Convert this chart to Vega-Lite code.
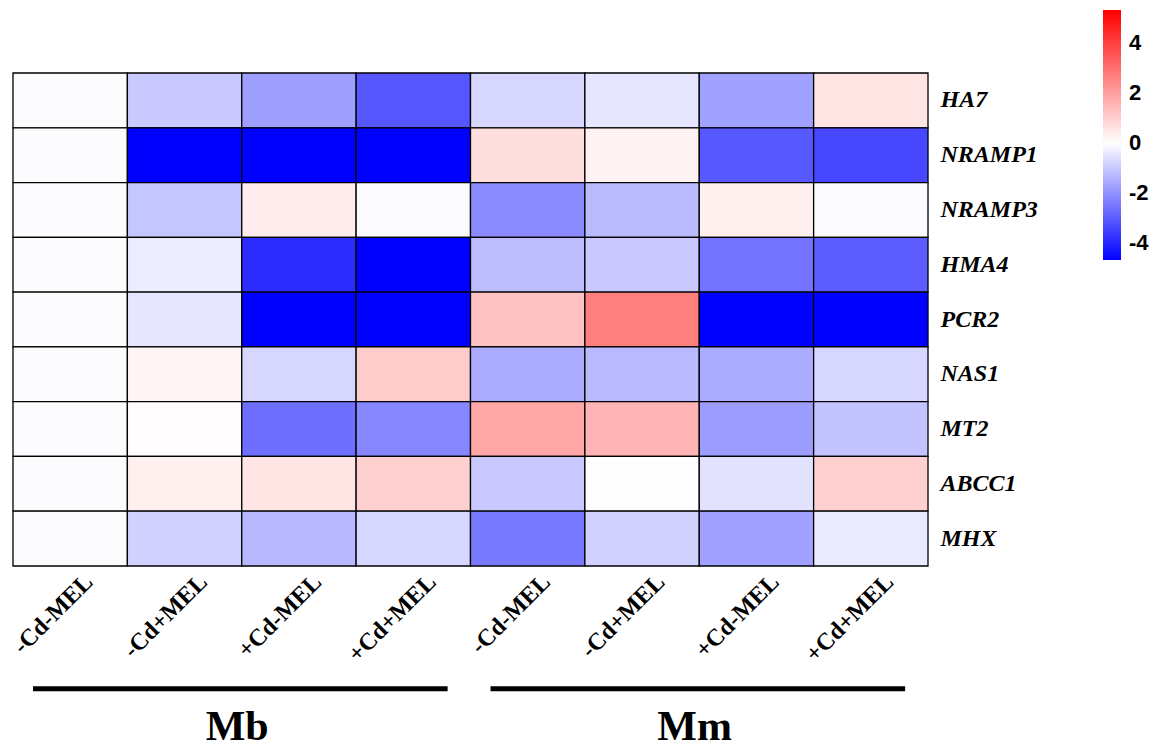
{
  "$schema": "https://vega.github.io/schema/vega-lite/v6.json",
  "width": 915,
  "height": 493,
  "autosize": {"type": "none"},
  "padding": {"left": 13, "top": 73, "right": 227, "bottom": 185},
  "background": "white",
  "config": {"view": {"stroke": null}},
  "datasets": {
    "cells": [
      {"gene":"HA7","col":"Mb|-Cd-MEL","value":-0.06},{"gene":"HA7","col":"Mb|-Cd+MEL","value":-1.0},{"gene":"HA7","col":"Mb|+Cd-MEL","value":-1.76},{"gene":"HA7","col":"Mb|+Cd+MEL","value":-3.1},{"gene":"HA7","col":"Mm|-Cd-MEL","value":-0.75},{"gene":"HA7","col":"Mm|-Cd+MEL","value":-0.45},{"gene":"HA7","col":"Mm|+Cd-MEL","value":-1.73},{"gene":"HA7","col":"Mm|+Cd+MEL","value":0.56},
      {"gene":"NRAMP1","col":"Mb|-Cd-MEL","value":-0.06},{"gene":"NRAMP1","col":"Mb|-Cd+MEL","value":-4.68},{"gene":"NRAMP1","col":"Mb|+Cd-MEL","value":-4.68},{"gene":"NRAMP1","col":"Mb|+Cd+MEL","value":-4.68},{"gene":"NRAMP1","col":"Mm|-Cd-MEL","value":0.68},{"gene":"NRAMP1","col":"Mm|-Cd+MEL","value":0.27},{"gene":"NRAMP1","col":"Mm|+Cd-MEL","value":-3.07},{"gene":"NRAMP1","col":"Mm|+Cd+MEL","value":-3.38},
      {"gene":"NRAMP3","col":"Mb|-Cd-MEL","value":-0.06},{"gene":"NRAMP3","col":"Mb|-Cd+MEL","value":-1.07},{"gene":"NRAMP3","col":"Mb|+Cd-MEL","value":0.39},{"gene":"NRAMP3","col":"Mb|+Cd+MEL","value":-0.07},{"gene":"NRAMP3","col":"Mm|-Cd-MEL","value":-2.13},{"gene":"NRAMP3","col":"Mm|-Cd+MEL","value":-1.27},{"gene":"NRAMP3","col":"Mm|+Cd-MEL","value":0.31},{"gene":"NRAMP3","col":"Mm|+Cd+MEL","value":-0.07},
      {"gene":"HMA4","col":"Mb|-Cd-MEL","value":-0.06},{"gene":"HMA4","col":"Mb|-Cd+MEL","value":-0.35},{"gene":"HMA4","col":"Mb|+Cd-MEL","value":-3.88},{"gene":"HMA4","col":"Mb|+Cd+MEL","value":-4.68},{"gene":"HMA4","col":"Mm|-Cd-MEL","value":-1.2},{"gene":"HMA4","col":"Mm|-Cd+MEL","value":-1.0},{"gene":"HMA4","col":"Mm|+Cd-MEL","value":-2.57},{"gene":"HMA4","col":"Mm|+Cd+MEL","value":-2.97},
      {"gene":"PCR2","col":"Mb|-Cd-MEL","value":-0.06},{"gene":"PCR2","col":"Mb|-Cd+MEL","value":-0.45},{"gene":"PCR2","col":"Mb|+Cd-MEL","value":-4.68},{"gene":"PCR2","col":"Mb|+Cd+MEL","value":-4.68},{"gene":"PCR2","col":"Mm|-Cd-MEL","value":1.26},{"gene":"PCR2","col":"Mm|-Cd+MEL","value":2.67},{"gene":"PCR2","col":"Mm|+Cd-MEL","value":-4.68},{"gene":"PCR2","col":"Mm|+Cd+MEL","value":-4.68},
      {"gene":"NAS1","col":"Mb|-Cd-MEL","value":-0.06},{"gene":"NAS1","col":"Mb|-Cd+MEL","value":0.21},{"gene":"NAS1","col":"Mb|+Cd-MEL","value":-0.75},{"gene":"NAS1","col":"Mb|+Cd+MEL","value":1.06},{"gene":"NAS1","col":"Mm|-Cd-MEL","value":-1.53},{"gene":"NAS1","col":"Mm|-Cd+MEL","value":-1.29},{"gene":"NAS1","col":"Mm|+Cd-MEL","value":-1.53},{"gene":"NAS1","col":"Mm|+Cd+MEL","value":-0.75},
      {"gene":"MT2","col":"Mb|-Cd-MEL","value":-0.06},{"gene":"MT2","col":"Mb|-Cd+MEL","value":0.05},{"gene":"MT2","col":"Mb|+Cd-MEL","value":-2.64},{"gene":"MT2","col":"Mb|+Cd+MEL","value":-2.22},{"gene":"MT2","col":"Mm|-Cd-MEL","value":1.84},{"gene":"MT2","col":"Mm|-Cd+MEL","value":1.55},{"gene":"MT2","col":"Mm|+Cd-MEL","value":-1.8},{"gene":"MT2","col":"Mm|+Cd+MEL","value":-1.11},
      {"gene":"ABCC1","col":"Mb|-Cd-MEL","value":-0.06},{"gene":"ABCC1","col":"Mb|-Cd+MEL","value":0.31},{"gene":"ABCC1","col":"Mb|+Cd-MEL","value":0.56},{"gene":"ABCC1","col":"Mb|+Cd+MEL","value":0.99},{"gene":"ABCC1","col":"Mm|-Cd-MEL","value":-1.0},{"gene":"ABCC1","col":"Mm|-Cd+MEL","value":0.03},{"gene":"ABCC1","col":"Mm|+Cd-MEL","value":-0.53},{"gene":"ABCC1","col":"Mm|+Cd+MEL","value":0.99},
      {"gene":"MHX","col":"Mb|-Cd-MEL","value":-0.06},{"gene":"MHX","col":"Mb|-Cd+MEL","value":-0.84},{"gene":"MHX","col":"Mb|+Cd-MEL","value":-1.31},{"gene":"MHX","col":"Mb|+Cd+MEL","value":-0.75},{"gene":"MHX","col":"Mm|-Cd-MEL","value":-2.46},{"gene":"MHX","col":"Mm|-Cd+MEL","value":-0.84},{"gene":"MHX","col":"Mm|+Cd-MEL","value":-1.73},{"gene":"MHX","col":"Mm|+Cd+MEL","value":-0.38}
    ],
    "groups": [
      {"group":"Mb","first":"Mb|-Cd-MEL","last":"Mb|+Cd+MEL","mid":"Mb|-Cd+MEL"},
      {"group":"Mm","first":"Mm|-Cd-MEL","last":"Mm|+Cd+MEL","mid":"Mm|-Cd+MEL"}
    ]
  },
  "resolve": {"scale": {"y": "independent", "color": "independent"}},
  "layer": [
    {
      "data": {"name": "cells"},
      "mark": {"type": "rect", "stroke": "black", "strokeWidth": 1.3},
      "encoding": {
        "x": {
          "field": "col", "type": "nominal",
          "scale": {"domain": ["Mb|-Cd-MEL","Mb|-Cd+MEL","Mb|+Cd-MEL","Mb|+Cd+MEL","Mm|-Cd-MEL","Mm|-Cd+MEL","Mm|+Cd-MEL","Mm|+Cd+MEL"], "paddingInner": 0, "paddingOuter": 0},
          "axis": {
            "title": null, "orient": "bottom", "domain": false, "ticks": false, "tickSize": 0,
            "labelAngle": -45, "labelAlign": "right", "labelBaseline": "middle",
            "labelOffset": 19, "labelPadding": 12,
            "labelFont": "Liberation Serif", "labelFontWeight": "bold", "labelFontSize": 24, "labelColor": "black",
            "labelExpr": "split(datum.value, '|')[1]", "labelLimit": 300
          }
        },
        "y": {
          "field": "gene", "type": "nominal",
          "scale": {"domain": ["HA7","NRAMP1","NRAMP3","HMA4","PCR2","NAS1","MT2","ABCC1","MHX"], "paddingInner": 0, "paddingOuter": 0},
          "axis": {
            "title": null, "orient": "right", "domain": false, "ticks": false, "tickSize": 0,
            "labelPadding": 12, "labelAlign": "left", "labelBaseline": "middle",
            "labelFont": "Liberation Serif", "labelFontWeight": "bold", "labelFontStyle": "italic", "labelFontSize": 24, "labelColor": "black", "labelLimit": 300
          }
        },
        "color": {
          "field": "value", "type": "quantitative",
          "scale": {"domain": [-4.68, 0, 5.32], "range": ["#0000ff", "#ffffff", "#ff0000"], "interpolate": "rgb"},
          "legend": {
            "title": null, "orient": "none", "legendX": 1090, "legendY": -63, "padding": 0,
            "direction": "vertical", "gradientLength": 250, "gradientThickness": 18, "gradientStrokeWidth": 0,
            "values": [4, 2, 0, -2, -4], "labelOffset": 8,
            "labelExpr": "datum.value < 0 ? '-' + abs(datum.value) : '' + datum.value",
            "labelFont": "Liberation Sans", "labelFontWeight": "bold", "labelFontSize": 22, "labelColor": "black", "labelOverlap": false
          }
        }
      }
    },
    {
      "data": {"name": "groups"},
      "mark": {"type": "rule", "stroke": "black", "strokeWidth": 5},
      "encoding": {
        "x": {"field": "first", "type": "nominal", "bandPosition": 0.175, "scale": {"domain": ["Mb|-Cd-MEL","Mb|-Cd+MEL","Mb|+Cd-MEL","Mb|+Cd+MEL","Mm|-Cd-MEL","Mm|-Cd+MEL","Mm|+Cd-MEL","Mm|+Cd+MEL"], "paddingInner": 0, "paddingOuter": 0}},
        "x2": {"field": "last", "bandPosition": 0.8},
        "y": {"datum": -2.24, "type": "quantitative", "scale": {"domain": [0, 9], "nice": false, "zero": false}, "axis": null}
      }
    },
    {
      "data": {"name": "groups"},
      "mark": {"type": "text", "font": "Liberation Serif", "fontWeight": "bold", "fontSize": 42, "color": "black", "align": "center", "baseline": "alphabetic"},
      "encoding": {
        "x": {"field": "mid", "type": "nominal", "bandPosition": 0.96, "scale": {"domain": ["Mb|-Cd-MEL","Mb|-Cd+MEL","Mb|+Cd-MEL","Mb|+Cd+MEL","Mm|-Cd-MEL","Mm|-Cd+MEL","Mm|+Cd-MEL","Mm|+Cd+MEL"], "paddingInner": 0, "paddingOuter": 0}},
        "y": {"datum": -3.17, "type": "quantitative", "scale": {"domain": [0, 9], "nice": false, "zero": false}, "axis": null},
        "text": {"field": "group"}
      }
    }
  ]
}
